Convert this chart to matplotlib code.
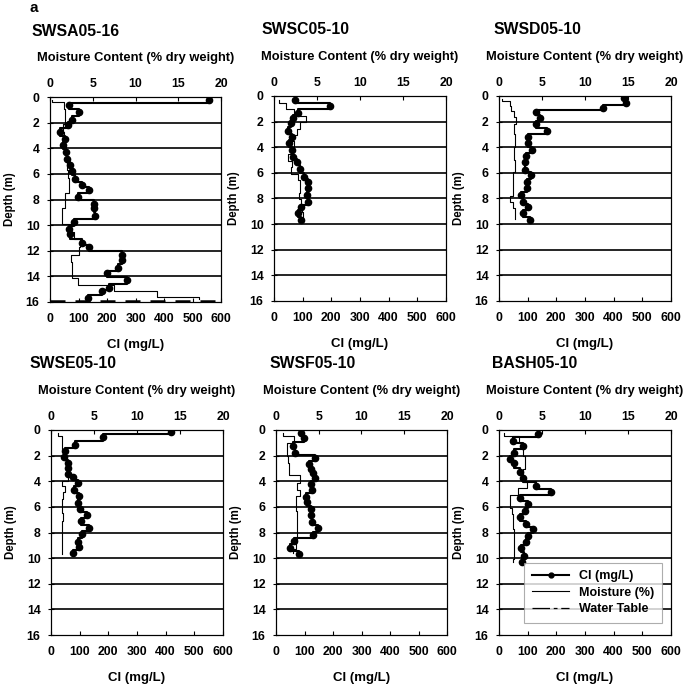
"""
Chloride and moisture depth profiles for six boreholes (panel a).
Cl on the bottom axis (mg/L), moisture on the top axis (% dry weight).
"""
import matplotlib
matplotlib.use("Agg")
import matplotlib.pyplot as plt
from matplotlib.lines import Line2D
import numpy as np

plt.rcParams["font.family"] = ["Liberation Sans", "DejaVu Sans"]
plt.rcParams["font.weight"] = "bold"

SITES = ["SWSA05-16", "SWSC05-10", "SWSD05-10", "SWSE05-10", "SWSF05-10", "BASH05-10"]

# --- chloride (mg/L) at sample depth (m) ---
cl_depth_a = [0.26, 0.65, 1.17, 1.77, 2.16, 2.73, 3.3, 3.78, 4.3, 4.8, 5.3, 5.8, 6.4, 6.85,
              7.24, 7.8, 8.33, 8.7, 9.3, 9.77, 10.3, 10.7, 11.4, 11.7, 12.3, 12.76, 13.36,
              13.75, 14.3, 14.9, 15.16, 15.7]
cl_a = [558, 65, 102, 77, 63, 36, 53, 44, 57, 60, 71, 77, 87, 111, 138, 99, 153, 153, 159,
        83, 65, 71, 111, 138, 252, 252, 240, 201, 270, 207, 183, 135]

cl_depth_c = [0.31, 0.78, 1.3, 1.74, 2.14, 2.7, 3.23, 3.7, 4.2, 4.74, 5.13, 5.7, 6.3, 6.7,
              7.2, 7.73, 8.25, 8.7, 9.17, 9.69]
cl_c = [73, 195, 85, 68, 58, 50, 62, 53, 62, 68, 81, 89, 105, 117, 120, 114, 117, 93, 85, 93]

cl_depth_d = [0.13, 0.52, 0.9, 1.24, 1.68, 2.19, 2.76, 3.23, 3.69, 4.2, 4.72, 5.16, 5.75,
              6.19, 6.7, 7.2, 7.74, 8.26, 8.64, 9.16, 9.68]
cl_d = [435, 444, 363, 128, 144, 128, 168, 101, 101, 116, 95, 89, 89, 113, 98, 98, 75, 84,
        101, 84, 107]

cl_depth_e = [0.13, 0.57, 1.17, 1.64, 2.14, 2.55, 3.0, 3.4, 3.65, 4.1, 4.69, 5.15, 5.68,
              6.2, 6.64, 7.1, 7.68, 8.15, 8.72, 9.16, 9.6]
cl_e = [417, 180, 85, 50, 47, 58, 58, 58, 75, 93, 81, 96, 93, 102, 125, 105, 132, 108, 93,
        96, 75]

cl_depth_f = [0.21, 0.65, 1.22, 1.76, 2.21, 2.68, 3.07, 3.38, 3.78, 4.22, 4.69, 5.2, 5.6,
              6.2, 6.64, 7.16, 7.68, 8.2, 8.65, 9.2, 9.7]
cl_f = [86, 98, 58, 66, 137, 117, 122, 129, 137, 122, 125, 105, 110, 122, 122, 125, 148,
        131, 63, 49, 82]

cl_depth_b = [0.31, 0.83, 1.25, 1.77, 2.29, 2.6, 3.3, 3.78, 4.38, 4.82, 5.34, 5.8, 6.3,
              6.82, 7.34, 7.76, 8.28, 8.72, 9.24, 9.84, 10.29]
cl_b = [135, 49, 83, 51, 37, 54, 74, 83, 130, 182, 74, 101, 89, 74, 93, 118, 101, 95, 78,
        86, 81]

# --- moisture (% dry weight) at sample depth (m) ---
mo_depth_a = [0.2, 0.6, 1.2, 1.8, 2.4, 3.0, 3.6, 4.2, 4.8, 5.4, 6.0, 6.6, 7.2, 7.8, 8.4,
              9.0, 9.6, 10.2, 10.8, 11.4, 12.0, 12.6, 13.2, 13.8, 14.4, 14.9, 15.4, 15.8]
mo_a = [0.2, 1.6, 1.7, 1.7, 1.5, 1.6, 1.8, 1.9, 1.9, 2.0, 2.1, 2.2, 2.2, 1.8, 1.8, 1.4,
        1.4, 2.4, 2.8, 3.5, 3.4, 2.5, 2.6, 2.6, 3.3, 7.5, 12.5, 17.4]

mo_depth_c = [0.3, 0.8, 1.3, 1.8, 2.3, 2.8, 3.3, 3.8, 4.3, 4.8, 5.3, 5.8, 6.3, 6.8, 7.3,
              7.8, 8.3, 8.8, 9.3, 9.7]
mo_c = [0.6, 1.4, 2.3, 3.7, 3.0, 2.7, 2.0, 2.3, 2.0, 1.6, 2.1, 2.0, 2.8, 3.0, 3.0, 2.9,
        3.1, 3.3, 3.4, 3.4]

mo_depth_d = [0.2, 0.6, 1.0, 1.4, 1.8, 2.5, 3.5, 4.5, 5.5, 6.3, 7.0, 7.6, 8.0, 8.5, 9.0,
              9.6]
mo_d = [0.3, 1.3, 1.4, 1.7, 2.0, 1.8, 1.85, 1.8, 1.9, 1.6, 1.6, 1.6, 1.3, 1.6, 1.9, 1.9]

mo_depth_e = [0.2, 0.7, 1.3, 1.8, 2.3, 2.8, 3.3, 3.8, 4.2, 4.6, 5.1, 5.6, 6.2, 6.8, 7.4,
              8.0, 8.6, 9.2, 9.7]
mo_e = [0.8, 1.3, 1.3, 1.6, 1.7, 1.8, 2.0, 2.0, 1.3, 1.6, 1.4, 1.3, 1.3, 1.4, 1.3, 1.3,
        1.3, 1.3, 1.3]

mo_depth_f = [0.2, 0.7, 1.3, 1.8, 2.3, 2.8, 3.3, 3.8, 4.4, 4.9, 5.4, 6.0, 6.6, 7.2, 7.8,
              8.4, 9.0, 9.6]
mo_f = [0.8, 2.1, 1.3, 1.3, 1.4, 1.5, 1.5, 2.8, 2.4, 2.8, 2.3, 2.3, 2.5, 2.4, 2.4, 2.4,
        2.3, 2.0]

mo_depth_b = [0.2, 0.7, 1.3, 1.8, 2.3, 2.8, 3.3, 3.8, 4.3, 4.8, 5.3, 5.8, 6.3, 6.8, 7.4,
              8.0, 8.6, 9.2, 9.8, 10.3]
mo_b = [0.55, 2.3, 2.8, 2.8, 3.0, 3.0, 2.8, 2.8, 3.2, 2.2, 1.3, 1.3, 1.5, 1.6, 1.6, 1.8,
        1.8, 1.8, 1.7, 1.6]

WATER_TABLE = [15.9, None, None, None, None, None]

CL_DEPTHS = [cl_depth_a, cl_depth_c, cl_depth_d, cl_depth_e, cl_depth_f, cl_depth_b]
CL_VALUES = [cl_a, cl_c, cl_d, cl_e, cl_f, cl_b]
MO_DEPTHS = [mo_depth_a, mo_depth_c, mo_depth_d, mo_depth_e, mo_depth_f, mo_depth_b]
MO_VALUES = [mo_a, mo_c, mo_d, mo_e, mo_f, mo_b]


def step_profile(depth, value):
    """Vertical step path: each sample spans half-way to its neighbours."""
    d = np.asarray(depth, float)
    v = np.asarray(value, float)
    edges = np.concatenate([[d[0]], (d[:-1] + d[1:]) / 2, [d[-1]]])
    ys = np.repeat(edges, 2)[1:-1]
    xs = np.repeat(v, 2)
    return xs, ys


# axes boxes in pixels (left, top, width, height) on a 685x686 canvas
W, H = 685, 686
BOXES = [(50, 97, 171, 205), (274, 96, 172, 205), (499, 96, 172, 205),
         (51, 430, 172, 205), (276, 430, 171, 205), (499, 430, 172, 205)]
TITLE_X = [32, 262, 494, 30, 270, 492]

fig = plt.figure(figsize=(W / 100, H / 100), dpi=100)

for i, (l, t, w, h) in enumerate(BOXES):
    ax = fig.add_axes([l / W, 1 - (t + h) / H, w / W, h / H])
    top = ax.twiny()

    for d in range(2, 16, 2):
        ax.axhline(d, color="black", lw=1.2, zorder=1)

    xs, ys = step_profile(CL_DEPTHS[i], CL_VALUES[i])
    ax.plot(xs, ys, color="black", lw=1.5, zorder=3)
    ax.plot(CL_VALUES[i], CL_DEPTHS[i], "o", color="black", ms=4.5, zorder=4)

    mx, my = step_profile(MO_DEPTHS[i], MO_VALUES[i])
    top.plot(mx, my, color="black", lw=0.8, zorder=3)

    if WATER_TABLE[i] is not None:
        ax.axhline(WATER_TABLE[i], color="black", lw=1.8, ls=(0, (6, 4)), zorder=2)

    ax.set_xlim(0, 600)
    ax.set_ylim(16, 0)
    top.set_xlim(0, 20)
    ax.set_xticks(range(0, 601, 100))
    ax.set_yticks(range(0, 17, 2))
    top.set_xticks(range(0, 21, 5))
    ax.tick_params(axis="x", direction="in", labelsize=8.8, length=3, width=0.8, pad=8)
    ax.tick_params(axis="y", direction="inout", labelsize=8.8, length=5, width=0.8, pad=5)
    top.tick_params(axis="x", direction="in", labelsize=8.8, length=3, width=0.8, pad=5)
    for a in (ax, top):
        for s in a.spines.values():
            s.set_linewidth(0.8)

    ax.set_xlabel("Cl (mg/L)", fontsize=9.5, fontweight="bold", labelpad=10)
    ax.set_ylabel("Depth (m)", fontsize=8.3, fontweight="bold", labelpad=7)
    top.set_xlabel("Moisture Content (% dry weight)", fontsize=9.3,
                   fontweight="bold", labelpad=12)
    fig.text(TITLE_X[i] / W, 1 - (t - 66) / H, SITES[i], fontsize=11.3,
             fontweight="bold", va="center", ha="left")

    if i == 5:
        handles = [
            Line2D([], [], color="black", lw=1.5, marker="o", ms=3.5),
            Line2D([], [], color="black", lw=0.8),
            Line2D([], [], color="black", lw=0.9, ls=(0, (14, 3, 3, 3))),
        ]
        leg = ax.legend(handles, ["Cl (mg/L)", "Moisture (%)", "Water Table"],
                        loc="lower right", fontsize=9, frameon=True, fancybox=False,
                        borderpad=0.6, handlelength=3.0, labelspacing=0.35,
                        bbox_to_anchor=(0.985, 0.03))
        leg.get_frame().set_edgecolor("#999999")
        leg.get_frame().set_linewidth(0.8)
        leg.set_zorder(10)

fig.text(30 / W, 1 - 8 / H, "a", fontsize=11, fontweight="bold", va="center")

fig.savefig("out.png", dpi=100)
